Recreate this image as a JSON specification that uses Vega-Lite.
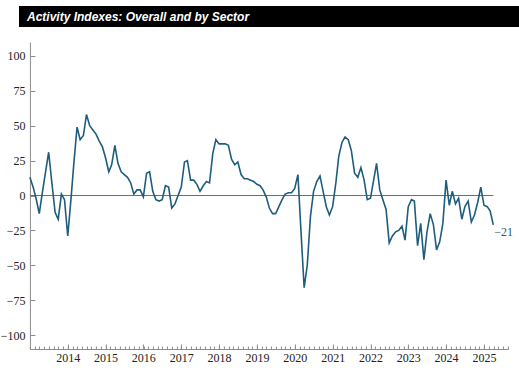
{
  "$schema": "https://vega.github.io/schema/vega-lite/v6.json",
  "background": "white",
  "padding": {"left": 0, "top": 6, "right": 0, "bottom": 0},
  "spacing": 15,
  "center": true,
  "datasets": {
    "activity": [
      {"date": "2013-01-01", "value": 13}, {"date": "2013-02-01", "value": 6}, {"date": "2013-03-01", "value": -2}, {"date": "2013-04-01", "value": -13},
      {"date": "2013-05-01", "value": 2}, {"date": "2013-06-01", "value": 17}, {"date": "2013-07-01", "value": 31}, {"date": "2013-08-01", "value": 9},
      {"date": "2013-09-01", "value": -12}, {"date": "2013-10-01", "value": -17}, {"date": "2013-11-01", "value": 1}, {"date": "2013-12-01", "value": -3},
      {"date": "2014-01-01", "value": -29}, {"date": "2014-02-01", "value": -3}, {"date": "2014-03-01", "value": 23}, {"date": "2014-04-01", "value": 49},
      {"date": "2014-05-01", "value": 40}, {"date": "2014-06-01", "value": 43}, {"date": "2014-07-01", "value": 58}, {"date": "2014-08-01", "value": 50},
      {"date": "2014-09-01", "value": 47}, {"date": "2014-10-01", "value": 44}, {"date": "2014-11-01", "value": 39}, {"date": "2014-12-01", "value": 35},
      {"date": "2015-01-01", "value": 27}, {"date": "2015-02-01", "value": 17}, {"date": "2015-03-01", "value": 22}, {"date": "2015-04-01", "value": 36},
      {"date": "2015-05-01", "value": 23}, {"date": "2015-06-01", "value": 17}, {"date": "2015-07-01", "value": 15}, {"date": "2015-08-01", "value": 13},
      {"date": "2015-09-01", "value": 9}, {"date": "2015-10-01", "value": 1}, {"date": "2015-11-01", "value": 4}, {"date": "2015-12-01", "value": 4},
      {"date": "2016-01-01", "value": -1}, {"date": "2016-02-01", "value": 16}, {"date": "2016-03-01", "value": 17}, {"date": "2016-04-01", "value": 3},
      {"date": "2016-05-01", "value": -3}, {"date": "2016-06-01", "value": -4}, {"date": "2016-07-01", "value": -3}, {"date": "2016-08-01", "value": 7},
      {"date": "2016-09-01", "value": 6}, {"date": "2016-10-01", "value": -9}, {"date": "2016-11-01", "value": -6}, {"date": "2016-12-01", "value": 0},
      {"date": "2017-01-01", "value": 6}, {"date": "2017-02-01", "value": 24}, {"date": "2017-03-01", "value": 25}, {"date": "2017-04-01", "value": 11},
      {"date": "2017-05-01", "value": 11}, {"date": "2017-06-01", "value": 8}, {"date": "2017-07-01", "value": 3}, {"date": "2017-08-01", "value": 7},
      {"date": "2017-09-01", "value": 10}, {"date": "2017-10-01", "value": 9}, {"date": "2017-11-01", "value": 30}, {"date": "2017-12-01", "value": 40},
      {"date": "2018-01-01", "value": 37}, {"date": "2018-02-01", "value": 37}, {"date": "2018-03-01", "value": 37}, {"date": "2018-04-01", "value": 36},
      {"date": "2018-05-01", "value": 26}, {"date": "2018-06-01", "value": 22}, {"date": "2018-07-01", "value": 24}, {"date": "2018-08-01", "value": 15},
      {"date": "2018-09-01", "value": 12}, {"date": "2018-10-01", "value": 12}, {"date": "2018-11-01", "value": 11}, {"date": "2018-12-01", "value": 10},
      {"date": "2019-01-01", "value": 8}, {"date": "2019-02-01", "value": 7}, {"date": "2019-03-01", "value": 4}, {"date": "2019-04-01", "value": -1},
      {"date": "2019-05-01", "value": -9}, {"date": "2019-06-01", "value": -13}, {"date": "2019-07-01", "value": -13}, {"date": "2019-08-01", "value": -8},
      {"date": "2019-09-01", "value": -3}, {"date": "2019-10-01", "value": 1}, {"date": "2019-11-01", "value": 2}, {"date": "2019-12-01", "value": 2},
      {"date": "2020-01-01", "value": 5}, {"date": "2020-02-01", "value": 15}, {"date": "2020-03-01", "value": -25}, {"date": "2020-04-01", "value": -66},
      {"date": "2020-05-01", "value": -50}, {"date": "2020-06-01", "value": -15}, {"date": "2020-07-01", "value": 3}, {"date": "2020-08-01", "value": 10},
      {"date": "2020-09-01", "value": 14}, {"date": "2020-10-01", "value": 3}, {"date": "2020-11-01", "value": -8}, {"date": "2020-12-01", "value": -14},
      {"date": "2021-01-01", "value": -8}, {"date": "2021-02-01", "value": 9}, {"date": "2021-03-01", "value": 28}, {"date": "2021-04-01", "value": 38},
      {"date": "2021-05-01", "value": 42}, {"date": "2021-06-01", "value": 40}, {"date": "2021-07-01", "value": 32}, {"date": "2021-08-01", "value": 16},
      {"date": "2021-09-01", "value": 13}, {"date": "2021-10-01", "value": 20}, {"date": "2021-11-01", "value": 11}, {"date": "2021-12-01", "value": -3},
      {"date": "2022-01-01", "value": -2}, {"date": "2022-02-01", "value": 11}, {"date": "2022-03-01", "value": 23}, {"date": "2022-04-01", "value": 4},
      {"date": "2022-05-01", "value": -3}, {"date": "2022-06-01", "value": -10}, {"date": "2022-07-01", "value": -34}, {"date": "2022-08-01", "value": -29},
      {"date": "2022-09-01", "value": -26}, {"date": "2022-10-01", "value": -25}, {"date": "2022-11-01", "value": -22}, {"date": "2022-12-01", "value": -32},
      {"date": "2023-01-01", "value": -8}, {"date": "2023-02-01", "value": -3}, {"date": "2023-03-01", "value": -4}, {"date": "2023-04-01", "value": -36},
      {"date": "2023-05-01", "value": -20}, {"date": "2023-06-01", "value": -46}, {"date": "2023-07-01", "value": -26}, {"date": "2023-08-01", "value": -13},
      {"date": "2023-09-01", "value": -21}, {"date": "2023-10-01", "value": -39}, {"date": "2023-11-01", "value": -33}, {"date": "2023-12-01", "value": -20},
      {"date": "2024-01-01", "value": 11}, {"date": "2024-02-01", "value": -7}, {"date": "2024-03-01", "value": 3}, {"date": "2024-04-01", "value": -6},
      {"date": "2024-05-01", "value": -2}, {"date": "2024-06-01", "value": -17}, {"date": "2024-07-01", "value": -8}, {"date": "2024-08-01", "value": -4},
      {"date": "2024-09-01", "value": -19}, {"date": "2024-10-01", "value": -14}, {"date": "2024-11-01", "value": -5}, {"date": "2024-12-01", "value": 6},
      {"date": "2025-01-01", "value": -7}, {"date": "2025-02-01", "value": -8}, {"date": "2025-03-01", "value": -11}, {"date": "2025-04-01", "value": -21}
    ]
  },
  "vconcat": [
    {
      "width": 505,
      "height": 21,
      "view": {"fill": "black", "stroke": null},
      "data": {"values": [{"t": 1}]},
      "mark": {"type": "point", "opacity": 0},
      "encoding": {},
      "title": {
        "text": "Activity Indexes: Overall and by Sector",
        "orient": "bottom",
        "anchor": "start",
        "frame": "group",
        "offset": -15,
        "dx": 8,
        "font": "Liberation Sans",
        "fontSize": 12,
        "fontStyle": "italic",
        "fontWeight": "bold",
        "color": "white"
      }
    },
    {
      "width": 478,
      "height": 307,
      "data": {"name": "activity"},
      "layer": [
        {
          "mark": {"type": "rule", "color": "#6e6e6e", "strokeWidth": 1},
          "encoding": {
            "x": {"field": "date", "type": "temporal", "aggregate": "min", "axis": null},
            "x2": {"field": "date", "aggregate": "max"},
            "y": {
              "datum": 0,
              "type": "quantitative",
              "axis": {
                "values": [-100, -75, -50, -25, 0, 25, 50, 75, 100],
                "format": "d",
                "tickSize": -5,
                "labelPadding": 10,
                "labelOverlap": false,
                "labelFlush": false
              }
            }
          }
        },
        {
          "mark": {"type": "line", "color": "#1f5d7c", "strokeWidth": 1.6},
          "encoding": {
            "x": {
              "field": "date",
              "type": "temporal",
              "scale": {
                "type": "utc",
                "nice": false,
                "domain": [
                  {"year": 2013, "month": 1, "date": 1, "utc": true},
                  {"year": 2025, "month": 8, "date": 20, "utc": true}
                ]
              },
              "axis": {
                "values": [
                  {"year": 2014, "month": 1, "date": 1, "utc": true},
                  {"year": 2015, "month": 1, "date": 1, "utc": true},
                  {"year": 2016, "month": 1, "date": 1, "utc": true},
                  {"year": 2017, "month": 1, "date": 1, "utc": true},
                  {"year": 2018, "month": 1, "date": 1, "utc": true},
                  {"year": 2019, "month": 1, "date": 1, "utc": true},
                  {"year": 2020, "month": 1, "date": 1, "utc": true},
                  {"year": 2021, "month": 1, "date": 1, "utc": true},
                  {"year": 2022, "month": 1, "date": 1, "utc": true},
                  {"year": 2023, "month": 1, "date": 1, "utc": true},
                  {"year": 2024, "month": 1, "date": 1, "utc": true},
                  {"year": 2025, "month": 1, "date": 1, "utc": true}
                ],
                "format": "%Y",
                "tickSize": -5,
                "labelPadding": 8,
                "labelFlush": false,
                "labelOverlap": false
              }
            },
            "y": {
              "field": "value",
              "type": "quantitative",
              "scale": {"domain": [-110, 110], "nice": false, "zero": false},
              "axis": {
                "values": [-100, -75, -50, -25, 0, 25, 50, 75, 100],
                "format": "d",
                "tickSize": -5,
                "labelPadding": 10,
                "labelOverlap": false,
                "labelFlush": false
              }
            }
          }
        },
        {
          "transform": [{"filter": "utcyear(datum.date) == 2025 && utcmonth(datum.date) == 3"}],
          "mark": {"type": "text", "align": "left", "baseline": "top", "dx": 1, "dy": 2, "font": "Liberation Serif", "fontSize": 12, "color": "#1f5d7c"},
          "encoding": {
            "x": {
              "field": "date",
              "type": "temporal",
              "axis": {
                "orient": "bottom",
                "values": {"expr": "sequence(utc(2013,0,1), utc(2025,7,20), 3944700000)"},
                "tickSize": -3,
                "labels": false,
                "domain": false
              }
            },
            "y": {
              "field": "value",
              "type": "quantitative",
              "axis": {
                "values": [-100, -75, -50, -25, 0, 25, 50, 75, 100],
                "format": "d",
                "tickSize": -5,
                "labelPadding": 10,
                "labelOverlap": false,
                "labelFlush": false
              }
            },
            "text": {"field": "value", "type": "quantitative", "format": "d"}
          }
        }
      ],
      "resolve": {"axis": {"x": "independent"}}
    }
  ],
  "config": {
    "view": {"stroke": null},
    "axis": {
      "title": null,
      "grid": false,
      "labelFont": "Liberation Serif",
      "labelFontSize": 12,
      "labelColor": "#222222",
      "domainColor": "#8c8c8c",
      "tickColor": "#8c8c8c"
    }
  }
}
